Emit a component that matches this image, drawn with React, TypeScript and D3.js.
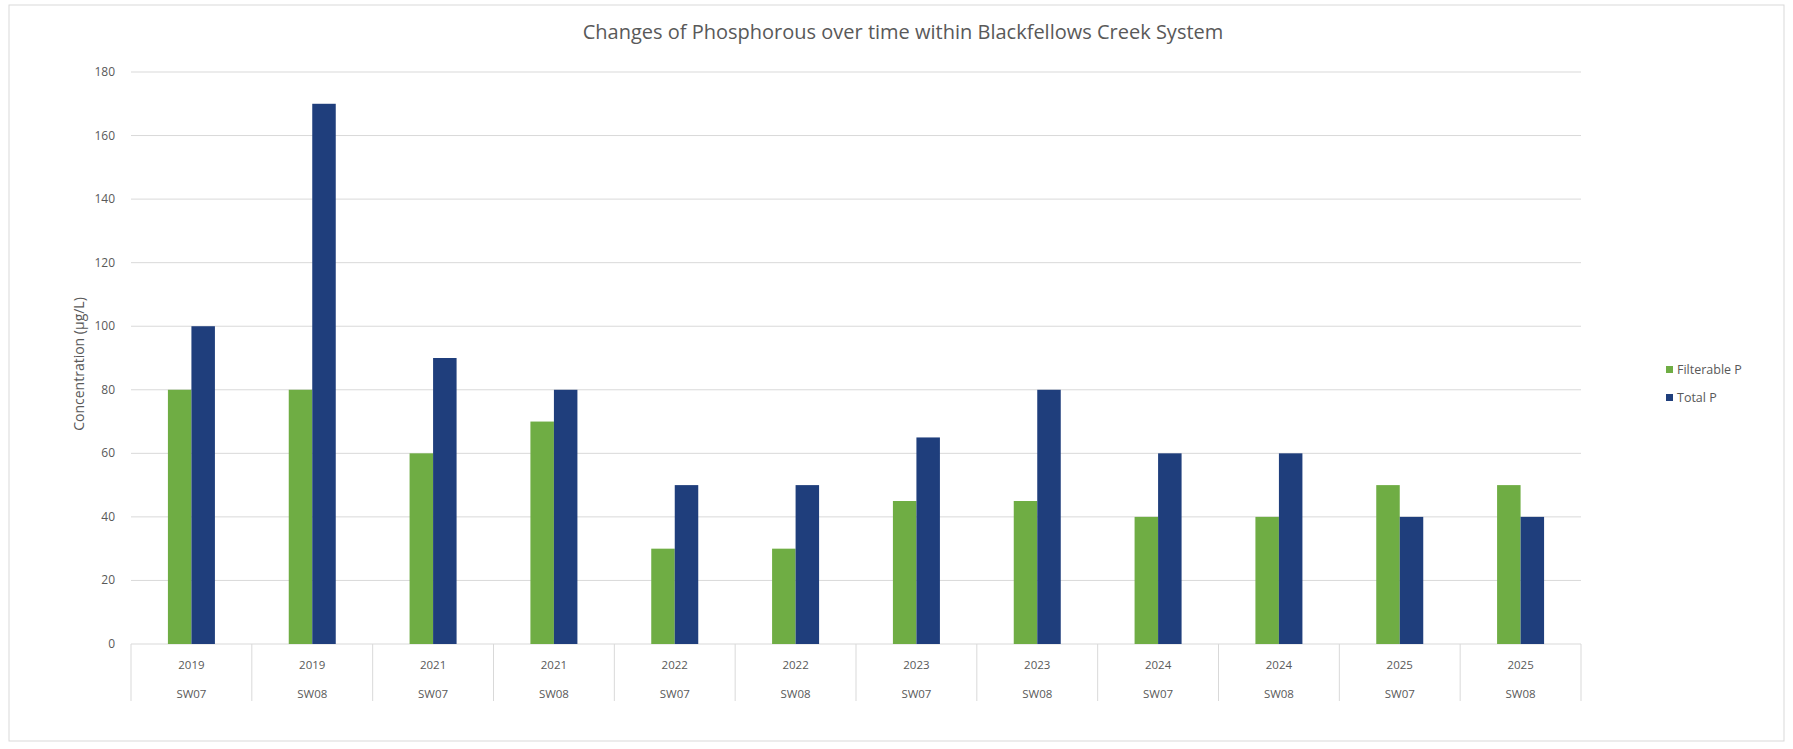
import React from "react";
import * as d3 from "d3";

const years = ["2019", "2019", "2021", "2021", "2022", "2022", "2023", "2023", "2024", "2024", "2025", "2025"];
const sites = ["SW07", "SW08", "SW07", "SW08", "SW07", "SW08", "SW07", "SW08", "SW07", "SW08", "SW07", "SW08"];
const filterableP = [80, 80, 60, 70, 30, 30, 45, 45, 40, 40, 50, 50];
const totalP = [100, 170, 90, 80, 50, 50, 65, 80, 60, 60, 40, 40];
const seriesNames = ["Filterable P", "Total P"];
const yTicks = [0, 20, 40, 60, 80, 100, 120, 140, 160, 180];

const W = 1793;
const H = 749;
const left = 131;
const right = 1581;
const top = 72;
const bottom = 644;
const colors = ["#6FAD44", "#1F3E7C"];
const font = "'Open Sans', 'DejaVu Sans', sans-serif";

export default function App() {
  const idx = years.map((_, i) => String(i));
  const x = d3.scaleBand().domain(idx).range([left, right]).paddingInner(0).paddingOuter(0);
  const inner = d3.scaleBand().domain(seriesNames).range([0, 47]);
  const y = d3.scaleLinear().domain([0, 180]).range([bottom, top]);
  const series = [filterableP, totalP];
  const bw = x.bandwidth();

  return (
    <svg width={W} height={H} style={{ position: "absolute", left: 0, top: 0, background: "#fff" }}>
      <rect x={9} y={5} width={W - 18} height={736} fill="#fff" stroke="#D9D9D9" strokeWidth={1} />
      <text x={903} y={39} textAnchor="middle" fontFamily={font} fontSize={20} fill="#595959">
        Changes of Phosphorous over time within Blackfellows Creek System
      </text>
      {yTicks.map((t) => (
        <g key={t}>
          <line x1={left} x2={right} y1={y(t)} y2={y(t)} stroke="#D9D9D9" strokeWidth={1} />
          <text x={115} y={y(t) + 4} textAnchor="end" fontFamily={font} fontSize={12} fill="#595959">
            {t}
          </text>
        </g>
      ))}
      <text
        transform={`translate(84, 364) rotate(-90)`}
        textAnchor="middle"
        fontFamily={font}
        fontSize={14}
        fill="#595959"
      >
        Concentration (µg/L)
      </text>
      {idx.map((k, i) => {
        const cx = (x(k) as number) + bw / 2;
        return (
          <g key={k}>
            {series.map((s, j) => (
              <rect
                key={j}
                x={cx - 23.5 + (inner(seriesNames[j]) as number)}
                y={y(s[i])}
                width={inner.bandwidth()}
                height={bottom - y(s[i])}
                fill={colors[j]}
              />
            ))}
            <text x={cx} y={669} textAnchor="middle" fontFamily={font} fontSize={11.5} fill="#595959">
              {years[i]}
            </text>
            <text x={cx} y={698} textAnchor="middle" fontFamily={font} fontSize={11.5} fill="#595959">
              {sites[i]}
            </text>
          </g>
        );
      })}
      {[...idx.map((k) => x(k) as number), right].map((xv, i) => (
        <line key={i} x1={xv} x2={xv} y1={bottom} y2={701} stroke="#D9D9D9" strokeWidth={1} />
      ))}
      {seriesNames.map((n, j) => (
        <g key={n}>
          <rect x={1666} y={366 + j * 28} width={7} height={7} fill={colors[j]} />
          <text x={1677} y={374 + j * 28} fontFamily={font} fontSize={12.5} fill="#595959">
            {n}
          </text>
        </g>
      ))}
    </svg>
  );
}
